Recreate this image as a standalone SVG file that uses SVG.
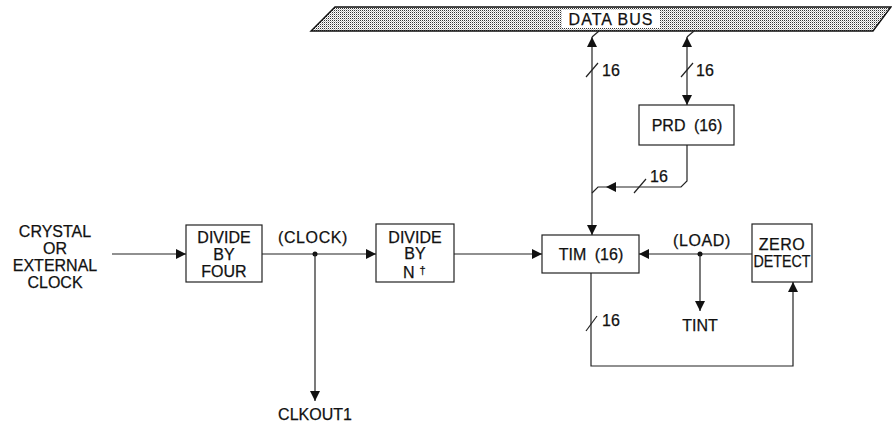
<svg xmlns="http://www.w3.org/2000/svg" width="892" height="426" viewBox="0 0 892 426">
<style>
text{font-family:"Liberation Sans",Arial,Helvetica,sans-serif;font-size:16px;fill:#111;stroke:#111;stroke-width:0.25;}
.c{text-anchor:middle;}
.box{fill:#fff;stroke:#222;stroke-width:1.2;}
.ln{fill:none;stroke:#222;stroke-width:1.2;}
.ah{fill:#111;stroke:none;}
.dot{fill:#111;}
</style>
<defs>
<pattern id="dots" width="2" height="2" patternUnits="userSpaceOnUse">
<rect x="0" y="0" width="2" height="2" fill="#fff"/>
<rect x="0" y="0" width="1" height="1" fill="#333"/>
<rect x="1" y="1" width="1" height="1" fill="#bbb"/>
</pattern>
<marker id="arr" viewBox="0 0 10 10" refX="10" refY="5" markerWidth="10" markerHeight="10" markerUnits="userSpaceOnUse" orient="auto-start-reverse">
<path d="M0,0 L10,5 L0,10 Z" class="ah"/>
</marker>
</defs>

<g id="data-bus">
<polygon points="335,7 891,7 873,31 311,31" fill="url(#dots)" stroke="#111" stroke-width="1.4"/>
<rect x="562" y="10" width="98" height="18" fill="#fff"/>
<text class="c" x="611" y="25" letter-spacing="1">DATA BUS</text>
</g>

<g id="input-label">
<text class="c" x="55" y="237">CRYSTAL</text>
<text class="c" x="55" y="254">OR</text>
<text class="c" x="55" y="271">EXTERNAL</text>
<text class="c" x="55" y="288">CLOCK</text>
</g>

<g id="divide-by-four">
<rect class="box" x="186" y="225" width="76" height="57"/>
<text class="c" x="224" y="243">DIVIDE</text>
<text class="c" x="224" y="260">BY</text>
<text class="c" x="224" y="277">FOUR</text>
</g>

<g id="divide-by-n">
<rect class="box" x="376" y="224" width="78" height="58"/>
<text class="c" x="415" y="243">DIVIDE</text>
<text class="c" x="415" y="259">BY</text>
<text x="403" y="278">N<tspan dx="5" dy="-4" style="font-size:11px">†</tspan></text>
</g>

<g id="tim">
<rect class="box" x="542" y="235" width="97" height="38"/>
<text class="c" x="591" y="260" word-spacing="4">TIM (16)</text>
</g>

<g id="prd">
<rect class="box" x="639" y="105" width="95" height="40"/>
<text class="c" x="687" y="131" word-spacing="4">PRD (16)</text>
</g>

<g id="zero-detect">
<rect class="box" x="752" y="224" width="60" height="58"/>
<text class="c" x="782" y="250" letter-spacing="0.5">ZERO</text>
<text class="c" x="782" y="267" textLength="57" lengthAdjust="spacingAndGlyphs">DETECT</text>
</g>

<g id="connectors">
<line class="ln" x1="112" y1="254" x2="186" y2="254" marker-end="url(#arr)"/>
<line class="ln" x1="262" y1="254" x2="376" y2="254" marker-end="url(#arr)"/>
<circle class="dot" cx="315" cy="254" r="2.5"/>
<text class="c" x="313" y="243" letter-spacing="0.6">(CLOCK)</text>
<line class="ln" x1="315" y1="254" x2="315" y2="401" marker-end="url(#arr)"/>
<text class="c" x="315" y="420">CLKOUT1</text>
<line class="ln" x1="454" y1="254" x2="542" y2="254" marker-end="url(#arr)"/>

<line class="ln" x1="592" y1="37" x2="592" y2="235" marker-start="url(#arr)" marker-end="url(#arr)"/>
<line class="ln" x1="592" y1="37" x2="599" y2="31"/>
<line class="ln" x1="586" y1="77" x2="598" y2="63"/>
<text x="602" y="76">16</text>

<line class="ln" x1="687" y1="37" x2="687" y2="105" marker-start="url(#arr)" marker-end="url(#arr)"/>
<line class="ln" x1="687" y1="37" x2="694" y2="31"/>
<line class="ln" x1="681" y1="77" x2="693" y2="63"/>
<text x="696" y="76">16</text>

<path class="ln" d="M687,145 L687,181 L681,187 L598,187 L592,193"/>
<polygon class="ah" points="606,187 616,182 616,192"/>
<line class="ln" x1="634" y1="193" x2="646" y2="179"/>
<text x="650" y="182">16</text>

<line class="ln" x1="752" y1="254" x2="639" y2="254" marker-end="url(#arr)"/>
<circle class="dot" cx="700" cy="254" r="2.5"/>
<text class="c" x="702" y="246" letter-spacing="0.6">(LOAD)</text>
<line class="ln" x1="700" y1="254" x2="700" y2="311" marker-end="url(#arr)"/>
<text class="c" x="700" y="331">TINT</text>

<path class="ln" d="M591,273 L591,366 L793,366 L793,282" marker-end="url(#arr)"/>
<line class="ln" x1="586" y1="331" x2="597" y2="316"/>
<text x="602" y="326">16</text>
</g>
</svg>
